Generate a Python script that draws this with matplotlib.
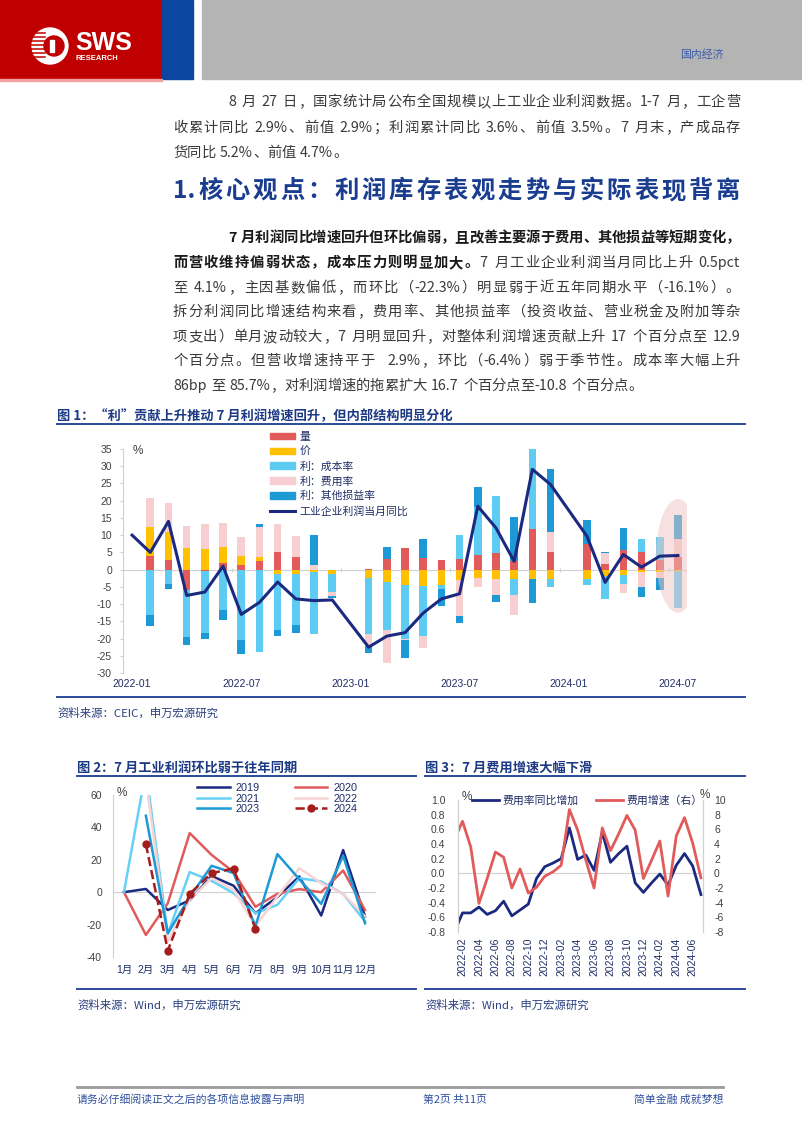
import re
import numpy as np
import pandas as pd
import matplotlib
matplotlib.use("Agg")
import matplotlib.pyplot as plt
from matplotlib.patches import Rectangle, Circle, Ellipse, Patch
from matplotlib.lines import Line2D

# ── data ──────────────────────────────────────────────────────────────────────

# fig 1: contribution split of monthly profit yoy (2022-01 .. 2024-07), pct pts
months1 = list(pd.period_range("2022-01", "2024-07", freq="M").strftime("%Y-%m"))
nan = np.nan
vol = [nan, 3.9, 2.7, -6.0, -0.3, 2.0, 1.3, 2.4, 5.1, 3.6, 0.0, 0.0,
       nan, 0.3, 3.0, 6.3, 3.4, 2.8, 3.2, 4.2, 4.8, 2.5, 11.9, 5.0,
       nan, 7.4, 1.5, 5.8, 5.1, 2.9, 3.6]
price = [nan, 8.4, 8.3, 6.4, 6.0, 4.5, 2.7, 1.2, -1.2, -1.2, -0.7, -1.3,
         nan, -2.4, -3.5, -4.5, -4.8, -4.5, -3.0, -2.5, -2.7, -2.8, -2.8, -2.8,
         nan, -2.8, -1.8, -1.5, -0.8, -0.8, -0.3]
cost = [nan, -13.1, -4.2, -13.5, -18.0, -11.7, -20.3, -23.8, -16.3, -15.0, -17.9, -5.2,
        nan, -16.4, -14.0, -15.5, -14.4, -1.0, 6.8, 14.0, 16.5, -4.5, 23.0, -2.2,
        nan, -1.8, -6.8, -2.7, 3.9, 6.5, -10.8]
fee = [nan, 8.6, 8.2, 6.2, 7.2, 7.1, 5.4, 8.9, 8.0, 6.1, 1.3, -1.3,
       nan, -3.5, -9.5, -0.5, -3.6, -0.2, -10.5, -2.5, -4.6, -5.9, 0.0, 5.8,
       nan, 0.0, 3.2, -2.5, -4.3, -1.6, 5.4]
other = [nan, -3.4, -1.4, -2.3, -1.7, -2.8, -4.2, 0.8, -1.7, -2.1, 8.7, -0.5,
         nan, -1.8, 3.5, -5.2, 5.6, -4.8, -1.9, 5.8, -2.2, 12.7, -6.9, 18.5,
         nan, 7.1, 0.3, 6.2, -2.8, -3.5, 6.8]
profit = [10.0, 5.0, 14.0, -7.5, -6.5, 1.0, -13.0, -9.5, -3.6, -8.5, -9.0, -8.8,
          nan, -22.5, -19.3, -18.3, -12.6, -8.5, -7.0, 18.4, 12.1, 2.4, 29.1, 24.7,
          nan, 9.7, -3.7, 4.4, 0.7, 3.9, 4.1]

# fig 2: mom change of monthly profit by year, %
months2 = ["1月", "2月", "3月", "4月", "5月", "6月", "7月", "8月", "9月", "10月", "11月", "12月"]
mom = {
    "2019": [0, 2, -11, -5, 10, 4, -13, -3, 9.7, -14.4, 26, -15],
    "2020": [0, -26.4, -6.8, 36.5, 23, 12.5, -9, -1, 1.9, 0, 13.4, -11],
    "2021": [0, 75, -25.8, 12.4, 7, -0.6, -13, -7.8, 8.7, 6.6, -1, -18],
    "2022": [nan, 70, -30.5, -4.7, 8.7, 1.4, -21, -2.7, 14.8, 5.6, -1, -15],
    "2023": [nan, 47.2, -25.4, -3, 16.3, 11.8, -21, 23.5, 8, -7.2, 22.5, -19.2],
    "2024": [nan, 29.7, -36, -1, 11.8, 14.6, -22.7, nan, nan, nan, nan, nan],
}

# fig 3: expense ratio yoy change (left) and expense growth (right)
months3 = list(pd.period_range("2022-01", "2024-07", freq="M").strftime("%Y-%m"))
exp_rate = [-0.80, -0.54, -0.54, -0.46, -0.56, -0.51, -0.38, -0.58, -0.50, -0.42, -0.07,
            0.09, 0.14, 0.20, 0.62, 0.19, 0.25, 0.04, 0.56, 0.15, 0.27,
            0.37, -0.13, -0.26, -0.13, -0.01, -0.16, 0.11, 0.27, 0.10, -0.29]
exp_growth = [4.6, 7.1, 3.6, -4.1, -0.7, 2.9, 2.2, -2.0, 0.6, -2.7, -1.9,
              -0.4, 0.2, 1.1, 8.7, 5.9, 1.8, -2.0, 6.2, 3.1, 5.4,
              7.9, 5.9, -0.7, 1.8, 4.4, -3.1, 5.1, 7.6, 4.1, -0.6]
rate_ticks = [-0.8, -0.6, -0.4, -0.2, 0.0, 0.2, 0.4, 0.6, 0.8, 1.0]

# page text
para1 = [
    [("8 月 27 日，国家统计局公布全国规模以上工业企业利润数据。1-7 月，工企营", False)],
    [("收累计同比 2.9%、前值 2.9%；利润累计同比 3.6%、前值 3.5%。7 月末，产成品存", False)],
    [("货同比 5.2%、前值 4.7%。", False)],
]
heading = "1.核心观点：利润库存表观走势与实际表现背离"
para2 = [
    [("7 月利润同比增速回升但环比偏弱，且改善主要源于费用、其他损益等短期变化，", True)],
    [("而营收维持偏弱状态，成本压力则明显加大。", True), ("7 月工业企业利润当月同比上升 0.5pct", False)],
    [("至 4.1%，主因基数偏低，而环比（-22.3%）明显弱于近五年同期水平（-16.1%）。", False)],
    [("拆分利润同比增速结构来看，费用率、其他损益率（投资收益、营业税金及附加等杂", False)],
    [("项支出）单月波动较大，7 月明显回升，对整体利润增速贡献上升 17 个百分点至 12.9", False)],
    [("个百分点。但营收增速持平于  2.9%，环比（-6.4%）弱于季节性。成本率大幅上升", False)],
    [("86bp 至 85.7%，对利润增速的拖累扩大 16.7 个百分点至-10.8 个百分点。", False)],
]

# ── style ─────────────────────────────────────────────────────────────────────

W, H = 802, 1133
CJK = ["Noto Sans CJK SC", "DejaVu Sans"]
NUM = ["Liberation Sans", "Noto Sans CJK SC"]
plt.rcParams["font.family"] = NUM
plt.rcParams["axes.unicode_minus"] = False

RED, YEL, LBLUE, PINK, BLUE, NAVY = "#e15b5b", "#ffc000", "#5ecbf2", "#f7cfd0", "#1d9ad6", "#1b2a80"
TITLE_C, RULE_C, SRC_C = "#1c3a84", "#2b4c9b", "#2a3f7f"
AX_C, TICK_C, LAB_C = "#d0d0d0", "#404040", "#1f2d66"

fig = plt.figure(figsize=(W / 100, H / 100), dpi=100)
bg = fig.add_axes([0, 0, 1, 1], zorder=0)
bg.set_xlim(0, W)
bg.set_ylim(H, 0)
bg.axis("off")


def box(l, t, r, b):
    return [l / W, 1 - b / H, (r - l) / W, (b - t) / H]


# ── header / footer ───────────────────────────────────────────────────────────

bg.add_patch(Rectangle((0, 0), 162, 79, color="#c00000"))
bg.add_patch(Rectangle((162, 0), 31, 79, color="#0b47a1"))
bg.add_patch(Rectangle((202, 0), 600, 79, color="#b4b4b4"))
bg.add_patch(Rectangle((0, 79), 162, 1.5, color="#f2a0a0"))
bg.add_patch(Circle((50, 46), 18, color="white"))
bg.add_patch(Circle((54, 46), 10, color="#c00000"))
for yy in range(33, 61, 4):
    bg.plot([30, 45], [yy, yy], color="#c00000", lw=1.1)
bg.add_patch(Rectangle((50, 40), 4, 12, color="white"))
bg.text(75, 43, "SWS", color="white", fontsize=18, fontweight="bold", va="center")
bg.text(76, 59, "RESEARCH", color="white", fontsize=5.5, fontweight="bold", va="center")
bg.text(680, 55, "国内经济", color="#3a5ca8", fontsize=7.8, family=CJK, va="center")

bg.plot([77, 723], [1087, 1087], color="#9a9a9a", lw=2)
bg.text(77, 1100, "请务必仔细阅读正文之后的各项信息披露与声明", color="#2f4f9f", fontsize=7.8, family=CJK, va="center")
bg.text(423, 1100, "第2页 共11页", color="#2f4f9f", fontsize=7.8, family=CJK, va="center")
bg.text(723, 1100, "简单金融 成就梦想", color="#2f4f9f", fontsize=7.8, family=CJK, va="center", ha="right")

# ── body text (justified like the word doc) ───────────────────────────────────

renderer = fig.canvas.get_renderer()


def text_line(y, parts, x0, x1=None, size=10.3, color="#3a3a3a", bold_color="#1a1a1a"):
    toks = []
    for s, bold in parts:
        for m in re.finditer(r"[\x21-\x7e]+| |[^\x00-\x7f]", s):
            toks.append((m.group(), bold))
    objs, widths = [], []
    for s, bold in toks:
        if s == " ":
            objs.append(None)
            widths.append(size * 100 / 72 * 0.3)
            continue
        t = bg.text(0, y, s, fontsize=size, family=CJK, va="center",
                    fontweight="bold" if bold else "normal",
                    color=bold_color if bold else color)
        objs.append(t)
        widths.append(t.get_window_extent(renderer).width)
    gap = 0
    if x1 is not None and len(toks) > 1:
        gap = (x1 - x0 - sum(widths)) / (len(toks) - 1)
    x = x0
    for t, w in zip(objs, widths):
        if t is not None:
            t.set_x(x)
        x += w + gap


for k, (line, y) in enumerate(zip(para1, [102, 128, 153])):
    x0 = 228 if k == 0 else 173
    text_line(y, line, x0, 740 if k < len(para1) - 1 else None)

text_line(191, [(heading, True)], 173, 740, size=17.5, bold_color="#1a3d8f")

for k, (line, y) in enumerate(zip(para2, [238, 263, 288, 312, 337, 361, 386])):
    x0 = 228 if k == 0 else 173
    text_line(y, line, x0, 740 if k < len(para2) - 1 else None)


def frame(x0, x1, y_title, y_bottom, title, source):
    bg.text(x0, y_title, title, fontsize=9.5, fontweight="bold", color=TITLE_C, family=CJK, va="center")
    bg.plot([x0, x1], [y_title + 8, y_title + 8], color=RULE_C, lw=1.4)
    bg.plot([x0, x1], [y_bottom, y_bottom], color=RULE_C, lw=1.4)
    bg.text(x0, y_bottom + 16, source, fontsize=8.2, color=SRC_C, family=CJK, va="center")


frame(57, 745, 416, 697, "图 1：“利”贡献上升推动 7 月利润增速回升，但内部结构明显分化", "资料来源：CEIC，申万宏源研究")
frame(77, 416, 768, 989, "图 2：7 月工业利润环比弱于往年同期", "资料来源：Wind，申万宏源研究")
frame(425, 745, 768, 989, "图 3：7 月费用增速大幅下滑", "资料来源：Wind，申万宏源研究")

# ── fig 1: stacked contributions + profit line ───────────────────────────────

ax1 = fig.add_axes(box(123, 449, 687, 673))
ax1.patch.set_alpha(0)
x = np.arange(len(months1))
pos = np.zeros(len(x))
neg = np.zeros(len(x))
series1 = [(vol, RED, "量"), (price, YEL, "价"), (cost, LBLUE, "利：成本率"),
           (fee, PINK, "利：费用率"), (other, BLUE, "利：其他损益率")]
for vals, color, label in series1:
    v = np.nan_to_num(np.array(vals, dtype=float))
    ax1.bar(x, v, 0.42, bottom=np.where(v >= 0, pos, neg), color=color, lw=0, zorder=2)
    pos += np.clip(v, 0, None)
    neg += np.clip(v, None, 0)

ax1.add_patch(Ellipse((30, 4), 2.4, 33, facecolor="#f0c4c2", alpha=0.5, edgecolor="none", zorder=3))

p = np.array(profit, dtype=float)
ok = ~np.isnan(p)
ax1.plot(x[ok], p[ok], color=NAVY, lw=2.2, zorder=4)
ax1.axhline(0, color=AX_C, lw=0.8, zorder=1)
ax1.vlines(np.arange(5.5, 31, 6), -0.6, 0.6, color=AX_C, lw=0.8, zorder=1)

ax1.set_xlim(-0.5, 30.5)
ax1.set_ylim(-30, 35)
ax1.set_yticks(range(-30, 36, 5))
ax1.set_xticks(x[::6])
ax1.set_xticklabels(months1[::6])
for s in ["top", "right", "bottom"]:
    ax1.spines[s].set_visible(False)
ax1.spines["left"].set_color(AX_C)
ax1.tick_params(axis="x", length=0, pad=4, labelsize=7.5, labelcolor=LAB_C)
ax1.tick_params(axis="y", length=2, color=AX_C, pad=6, labelsize=7.5, labelcolor=TICK_C)
bg.text(133, 451, "%", fontsize=8.5, color=TICK_C, va="center")

handles = [Patch(color=c) for _, c, _ in series1] + [Line2D([], [], color=NAVY, lw=2.2)]
labels = [l for _, _, l in series1] + ["工业企业利润当月同比"]
ax1.legend(handles, labels, loc="upper left", bbox_to_anchor=(270 / W, 1 - 432 / H),
           bbox_transform=fig.transFigure, frameon=False, fontsize=7.8, handlelength=2.3,
           handleheight=0.55, labelspacing=0.42, handletextpad=0.4, borderpad=0,
           borderaxespad=0, labelcolor=LAB_C)

# ── fig 2: mom by year ────────────────────────────────────────────────────────

ax2 = fig.add_axes(box(113, 795, 376, 957))
ax2.patch.set_alpha(0)
x2 = np.arange(len(months2))
styles2 = {"2019": dict(color=NAVY), "2020": dict(color=RED), "2021": dict(color="#66d0f7"),
           "2022": dict(color="#f8d3d3"), "2023": dict(color=BLUE),
           "2024": dict(color="#a61c1c", ls="--", marker="o", ms=5)}
for yr in ["2019", "2020", "2021", "2022", "2023", "2024"]:
    ax2.plot(x2, mom[yr], lw=1.8, label=yr, **styles2[yr])
ax2.axhline(0, color=AX_C, lw=0.8, zorder=0)
ax2.set_xlim(-0.5, 11.5)
ax2.set_ylim(-40, 60)
ax2.set_yticks(range(-40, 61, 20))
ax2.set_xticks(x2)
ax2.set_xticklabels(months2)
for s in ["top", "right", "bottom"]:
    ax2.spines[s].set_visible(False)
ax2.spines["left"].set_color(AX_C)
ax2.tick_params(axis="x", length=0, pad=6, labelsize=7.5, labelcolor=LAB_C)
ax2.tick_params(axis="y", length=0, pad=8, labelsize=7.5, labelcolor=TICK_C)
bg.text(117, 793, "%", fontsize=8.5, color=TICK_C, va="center")
h2, l2 = ax2.get_legend_handles_labels()
order = [0, 2, 4, 1, 3, 5]
ax2.legend([h2[i] for i in order], [l2[i] for i in order], ncol=2, loc="upper left",
           bbox_to_anchor=(197 / W, 1 - 783 / H), bbox_transform=fig.transFigure,
           frameon=False, fontsize=7.8, handlelength=3.0, columnspacing=3.2,
           labelspacing=0.05, handletextpad=0.6, borderpad=0, borderaxespad=0,
           labelcolor=LAB_C)

# ── fig 3: expense ratio vs expense growth ───────────────────────────────────

ax3 = fig.add_axes(box(458, 800, 703, 932))
ax3.patch.set_alpha(0)
x3 = np.arange(len(months3))
l1, = ax3.plot(x3, exp_rate, color=NAVY, lw=2, label="费用率同比增加", zorder=3)
ax3.axhline(0, color=AX_C, lw=0.8, zorder=0)
ax3.set_xlim(0.45, 30.25)
ax3.set_ylim(-0.8, 1.0)
ax3.set_yticks(rate_ticks)
ax3.set_yticklabels([f"{v:.1f}" for v in rate_ticks])
ax3.set_xticks(x3[1::2])
ax3.set_xticklabels(months3[1::2], rotation=90)
ax3r = ax3.twinx()
l2, = ax3r.plot(x3, exp_growth, color=RED, lw=2, label="费用增速（右）")
ax3r.set_ylim(-8, 10)
ax3r.set_yticks(range(-8, 11, 2))
for a in (ax3, ax3r):
    for s in ["top", "bottom"]:
        a.spines[s].set_visible(False)
    a.spines["left"].set_color(AX_C)
    a.spines["right"].set_color(AX_C)
ax3.tick_params(axis="x", length=0, pad=4, labelsize=7.5, labelcolor=LAB_C)
ax3.tick_params(axis="y", length=0, pad=9, labelsize=7.5, labelcolor=TICK_C)
ax3r.tick_params(axis="y", length=0, pad=8, labelsize=7.5, labelcolor=TICK_C)
bg.text(462, 797, "%", fontsize=8.5, color=TICK_C, va="center")
bg.text(700, 795, "%", fontsize=8.5, color=TICK_C, va="center")
ax3r.legend([l1, l2], [l1.get_label(), l2.get_label()], ncol=2, loc="upper left",
            bbox_to_anchor=(472 / W, 1 - 795 / H), bbox_transform=fig.transFigure,
            frameon=False, fontsize=7.8, handlelength=2.5, columnspacing=1.6,
            handletextpad=0.3, borderpad=0, borderaxespad=0, labelcolor=LAB_C)

fig.savefig("out.png", dpi=100)
